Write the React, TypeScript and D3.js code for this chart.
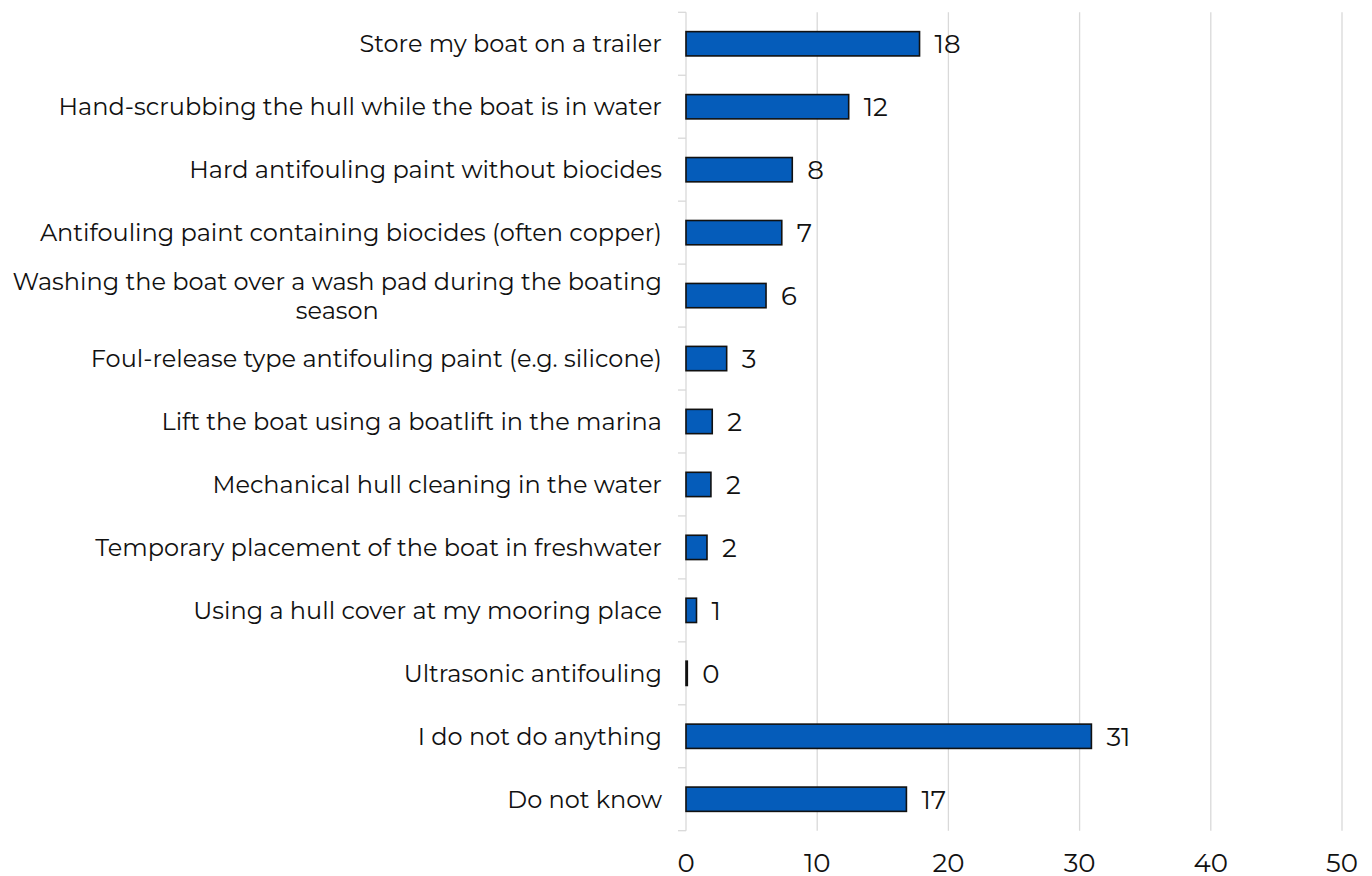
import React, { useEffect, useRef } from "react";
import * as d3 from "d3";

const categories: string[] = [
  "Store my boat on a trailer",
  "Hand-scrubbing the hull while the boat is in water",
  "Hard antifouling paint without biocides",
  "Antifouling paint containing biocides (often copper)",
  "Washing the boat over a wash pad during the boating\nseason",
  "Foul-release type antifouling paint (e.g. silicone)",
  "Lift the boat using a boatlift in the marina",
  "Mechanical hull cleaning in the water",
  "Temporary placement of the boat in freshwater",
  "Using a hull cover at my mooring place",
  "Ultrasonic antifouling",
  "I do not do anything",
  "Do not know",
];

const values: number[] = [17.8, 12.4, 8.1, 7.3, 6.1, 3.1, 2.0, 1.9, 1.6, 0.8, 0.1, 30.9, 16.8];

const xTicks: number[] = [0, 10, 20, 30, 40, 50];

const W = 1372;
const H = 876;
const FONT = "Montserrat, 'Open Sans', 'DejaVu Sans', sans-serif";

export default function App() {
  const ref = useRef<SVGSVGElement | null>(null);

  useEffect(() => {
    const svg = d3.select(ref.current);
    svg.selectAll("*").remove();

    const x = d3.scaleLinear().domain([0, 50]).range([686, 1342]);
    const y = d3
      .scaleBand<string>()
      .domain(categories)
      .range([12.3, 830.7])
      .paddingInner(0.614)
      .paddingOuter(0.307);
    const step = y.step();
    const y0 = 12.3;

    const grid = "#d9d9d9";

    svg
      .append("g")
      .selectAll("line")
      .data(xTicks.slice(1))
      .join("line")
      .attr("x1", (d) => x(d))
      .attr("x2", (d) => x(d))
      .attr("y1", y0)
      .attr("y2", 830.7)
      .attr("stroke", grid)
      .attr("stroke-width", 1.3);

    svg
      .append("line")
      .attr("x1", x(0))
      .attr("x2", x(0))
      .attr("y1", y0)
      .attr("y2", 830.7)
      .attr("stroke", grid)
      .attr("stroke-width", 1.3);

    const bounds = d3.range(categories.length + 1).map((i) => y0 + i * step);
    svg
      .append("g")
      .selectAll("line")
      .data(bounds)
      .join("line")
      .attr("x1", x(0) - 8)
      .attr("x2", x(0))
      .attr("y1", (d) => d)
      .attr("y2", (d) => d)
      .attr("stroke", grid)
      .attr("stroke-width", 1.3);

    svg
      .append("g")
      .selectAll("rect")
      .data(categories)
      .join("rect")
      .attr("x", x(0))
      .attr("y", (d) => y(d)!)
      .attr("width", (d, i) => x(values[i]) - x(0))
      .attr("height", y.bandwidth())
      .attr("fill", "#055cba")
      .attr("stroke", "#111")
      .attr("stroke-width", 1.6);

    svg
      .append("g")
      .selectAll("text")
      .data(categories)
      .join("text")
      .attr("x", (d, i) => x(values[i]) + 15)
      .attr("y", (d) => y(d)! + y.bandwidth() / 2)
      .attr("dy", "0.36em")
      .attr("font-family", FONT)
      .attr("font-size", 26)
      .attr("fill", "#111")
      .text((d, i) => String(Math.round(values[i])));

    const labelRight = 662;
    const LFS = 24;
    categories.forEach((c) => {
      const lines = c.split("\n");
      const cy = y(c)! + y.bandwidth() / 2;
      const lh = 29;
      const t = svg
        .append("text")
        .attr("font-family", FONT)
        .attr("font-size", LFS)
        .attr("fill", "#111");
      if (lines.length === 1) {
        t.attr("x", labelRight)
          .attr("y", cy)
          .attr("dy", "0.36em")
          .attr("text-anchor", "end")
          .text(c);
      } else {
        const tmp = svg
          .append("text")
          .attr("font-family", FONT)
          .attr("font-size", LFS)
          .text(lines[0]);
        const wMax = (tmp.node() as SVGTextElement).getComputedTextLength();
        tmp.remove();
        const cx = labelRight - wMax / 2;
        t.attr("text-anchor", "middle");
        lines.forEach((ln, i) => {
          t.append("tspan")
            .attr("x", cx)
            .attr("y", cy + (i - (lines.length - 1) / 2) * lh)
            .attr("dy", "0.36em")
            .text(ln);
        });
      }
    });

    svg
      .append("g")
      .selectAll("text")
      .data(xTicks)
      .join("text")
      .attr("x", (d) => x(d))
      .attr("y", 863)
      .attr("dy", "0.36em")
      .attr("text-anchor", "middle")
      .attr("font-family", FONT)
      .attr("font-size", 26)
      .attr("fill", "#111")
      .text((d) => String(d));
  }, []);

  return (
    <svg
      ref={ref}
      width={W}
      height={H}
      style={{ position: "absolute", left: 0, top: 0, background: "#fff" }}
    />
  );
}
